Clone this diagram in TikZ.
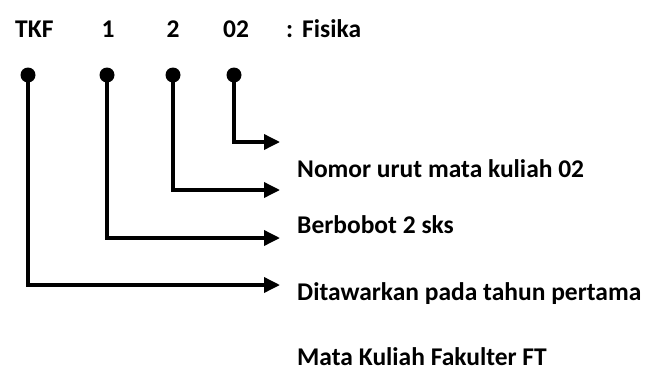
\documentclass[tikz,border=0pt]{standalone}
\usepackage{fontspec}
\setmainfont{Carlito}
\usetikzlibrary{arrows.meta}
\begin{document}
\begin{tikzpicture}[x=1pt,y=-1pt,
  txt/.style={inner sep=0pt,anchor=base west,font=\fontsize{25.5}{30}\selectfont\bfseries},
  code/.style={inner sep=0pt,anchor=base,font=\fontsize{25.5}{30}\selectfont\bfseries},
  dot/.style={circle,fill=black,inner sep=0pt,minimum size=15pt},
  conn/.style={line width=3.5pt,-{Triangle[length=16pt,width=15pt]}}]
\useasboundingbox (0,0) rectangle (649,370);
% top row
\node[txt] (tkf) at (15,37) {TKF};
\node[code] (one) at (108,37) {1};
\node[code] (two) at (173,37) {2};
\node[code] (oz) at (236,37) {02};
\node[txt] (fis) at (286,37) {:\hspace{9pt}Fisika};
% dots
\node[dot] (d1) at (28,75) {};
\node[dot] (d2) at (107,75) {};
\node[dot] (d3) at (173,75) {};
\node[dot] (d4) at (234,75) {};
% arrow ends
\coordinate (e4) at (280,142);
\coordinate (e3) at (280,190);
\coordinate (e2) at (280,238);
\coordinate (e1) at (280,285);
% labels
\node[txt] (l4) at (297,177) {Nomor urut mata kuliah 02};
\node[txt] (l2) at (297,233) {Berbobot 2 sks};
\node[txt] (l1) at (297,300) {Ditawarkan pada tahun pertama};
\node[txt] (l0) at (297,365) {Mata Kuliah Fakulter FT};
% connectors
\draw[conn] (d4.center) |- (e4);
\draw[conn] (d3.center) |- (e3);
\draw[conn] (d2.center) |- (e2);
\draw[conn] (d1.center) |- (e1);
\end{tikzpicture}
\end{document}
